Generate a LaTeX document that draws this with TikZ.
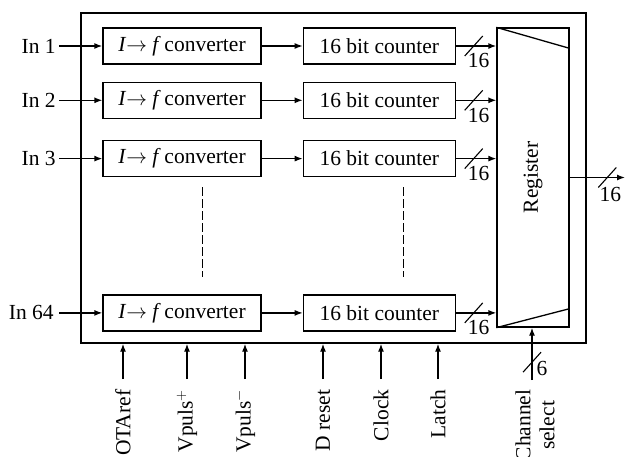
\documentclass[tikz,border=0pt]{standalone}
\usepackage{fontspec}
\setmainfont{Liberation Serif}
\usepackage{tikz}
\usetikzlibrary{arrows.meta, positioning}

\begin{document}
\begin{tikzpicture}[
    x=1pt, y=-1pt,
    line width=1.3pt,
    every node/.style={font=\fontsize{21.5}{24}\selectfont},
    conv/.style={rectangle, draw, minimum width=158pt, minimum height=36pt, inner sep=0pt},
    counter/.style={rectangle, draw, minimum width=152pt, minimum height=36pt, inner sep=0pt},
    inlabel/.style={inner sep=0pt},
    ctrl/.style={rotate=90, anchor=east, inner sep=0pt, align=center},
    busw/.style={inner sep=0pt, anchor=north, xshift=5pt, yshift=-7pt},
    arrow/.style={-{Latex[length=8pt, width=6pt]}},
    bus/.pic={\draw[-, line width=1.1pt] (-9,10) -- (9,-10);}
]
\useasboundingbox (0,0) rectangle (626,456);
\node (frame) [draw, minimum width=505pt, minimum height=330pt] at (333.5,178) {};
% converter and counter rows
\node (conv1) [conv] at (182,46) {\textit{I}$\rightarrow$\ \textit{f}\,converter};
\node (conv2) [conv, below=17pt of conv1] {\textit{I}$\rightarrow$\ \textit{f}\,converter};
\node (conv3) [conv, below=21pt of conv2] {\textit{I}$\rightarrow$\ \textit{f}\,converter};
\node (conv64) [conv, below=117pt of conv3] {\textit{I}$\rightarrow$\ \textit{f}\,converter};
\node (cnt1) [counter, right=41pt of conv1] {16 bit counter};
\node (cnt2) [counter, right=41pt of conv2] {16 bit counter};
\node (cnt3) [counter, right=41pt of conv3] {16 bit counter};
\node (cnt64) [counter, right=41pt of conv64] {16 bit counter};
\node (reg) [draw, minimum width=72pt, minimum height=299pt, inner sep=0pt] at (533,177.5) {};
\node (regtxt) [rotate=90] at (reg.center) {Register};
\draw (reg.north west) -- ([yshift=-21pt]reg.north east);
\draw (reg.south west) -- ([yshift=19pt]reg.south east);
% inputs
\node (in1) [inlabel, left=46pt of conv1] {In 1};
\node (in2) [inlabel, left=46pt of conv2] {In 2};
\node (in3) [inlabel, left=46pt of conv3] {In 3};
\node (in64) [inlabel, left=48pt of conv64] {In 64};
\draw [arrow] ([xshift=3pt]in1.east) -- (conv1);
\draw [arrow] ([xshift=3pt]in2.east) -- (conv2);
\draw [arrow] ([xshift=3pt]in3.east) -- (conv3);
\draw [arrow] ([xshift=5pt]in64.east) -- (conv64);
\draw [arrow] (conv1) -- (cnt1); \draw [arrow] (conv2) -- (cnt2);
\draw [arrow] (conv3) -- (cnt3); \draw [arrow] (conv64) -- (cnt64);
\draw [arrow] (cnt1) -- (cnt1 -| reg.west) pic[pos=.44]{bus} node[busw, pos=.44]{16};
\draw [arrow] (cnt2) -- (cnt2 -| reg.west) pic[pos=.44]{bus} node[busw, pos=.44]{16};
\draw [arrow] (cnt3) -- (cnt3 -| reg.west) pic[pos=.44]{bus} node[busw, pos=.44]{16};
\draw [arrow] (cnt64) -- (cnt64 -| reg.west) pic[pos=.44]{bus} node[busw, pos=.44]{16};
\draw [dash pattern=on 9pt off 3pt, line width=1pt] ([xshift=20pt, yshift=-10pt]conv3.south) -- ([xshift=20pt, yshift=17pt]conv64.north);
\draw [dash pattern=on 9pt off 3pt, line width=1pt] ([xshift=24pt, yshift=-10pt]cnt3.south) -- ([xshift=24pt, yshift=17pt]cnt64.north);
% output
\coordinate (out) at (625,177.5);
\draw [arrow] (reg.east) -- (out) pic[pos=.68]{bus} node[busw, pos=.68, xshift=-2pt, yshift=-2pt]{16};
% control lines
\node (otaref) [ctrl] at (123,389) {OTAref};
\node (vplus) [ctrl] at (187,389) {Vpuls$^{+}$};
\node (vminus) [ctrl] at (245,389) {Vpuls$^{-}$};
\node (dreset) [ctrl] at (323,389) {D reset};
\node (clock) [ctrl] at (381,389) {Clock};
\node (latch) [ctrl] at (438,389) {Latch};
\node (chsel) [ctrl] at (535,389) {Channel\\select};
\foreach \n in {otaref, vplus, vminus, dreset, clock, latch}
  \draw [arrow] ([yshift=10pt]\n.east) -- (\n.east |- frame.south);
\draw [arrow] ([xshift=-3pt, yshift=9pt]chsel.east) -- ([xshift=-3pt]chsel.east |- reg.south) pic[pos=.34]{bus}
  node[pos=.34, inner sep=0pt, anchor=north west, xshift=4pt, yshift=2pt]{6};
\end{tikzpicture}
\end{document}
